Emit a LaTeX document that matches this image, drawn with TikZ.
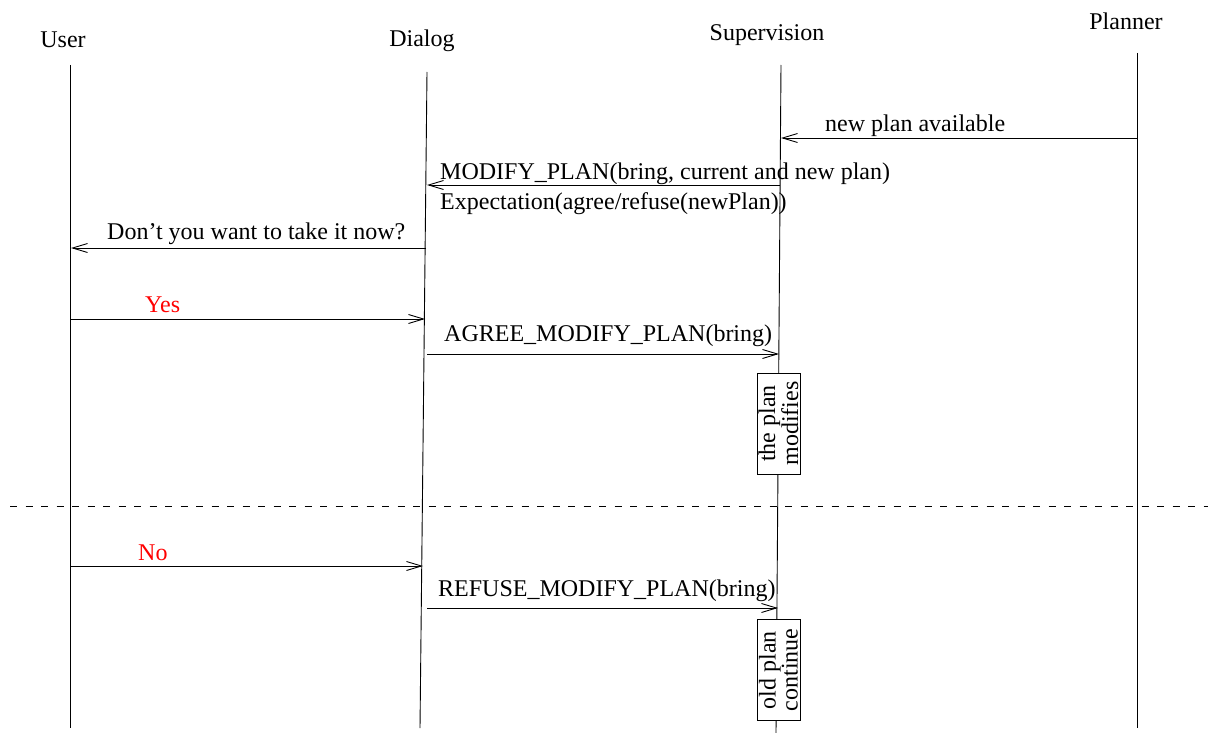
\documentclass[tikz,border=0pt]{standalone}
\usepackage{fontspec}
\setmainfont{Liberation Serif}
\usetikzlibrary{arrows.meta}
\begin{document}
\begin{tikzpicture}[x=1pt,y=-1pt,
  lifeline/.style={line width=0.9pt},
  msg/.style={line width=0.9pt,-{Straight Barb[length=15pt,width=9pt,line width=0.9pt]}},
  lbl/.style={anchor=base west,inner sep=0pt,font=\fontsize{24}{28}\selectfont},
  head/.style={anchor=base,inner sep=0pt,font=\fontsize{24}{28}\selectfont},
  note/.style={draw,fill=white,line width=0.9pt,rotate=90,align=center,inner sep=0pt,
    minimum width=101pt,minimum height=43pt,font=\fontsize{24}{17}\selectfont}]
\useasboundingbox (0,0) rectangle (1208,733);

% actor headings
\node[head] (huser) at (63,48) {User};
\node[head] (hdial) at (422,47) {Dialog};
\node[head] (hsup)  at (767,41) {Supervision};
\node[head] (hplan) at (1126,30) {Planner};

% lifelines
\coordinate (utop) at (70,65);   \coordinate (ubot) at (70,728);
\coordinate (dtop) at (427,72);  \coordinate (dbot) at (420,728);
\coordinate (stop) at (781,65);  \coordinate (sbot) at (776,733);
\coordinate (ptop) at (1137,53); \coordinate (pbot) at (1137,728);
\draw[lifeline] (utop) -- (ubot);
\draw[lifeline] (dtop) -- (dbot);
\draw[lifeline] (stop) -- (sbot);
\draw[lifeline] (ptop) -- (pbot);

% message end points on the lifelines
\coordinate (p1) at (1137,138); \coordinate (s1) at (781,138);
\coordinate (s2) at (780,185);  \coordinate (d2) at (427,185);
\coordinate (d3) at (426,248);  \coordinate (u3) at (71,248);
\coordinate (u4) at (70,319);   \coordinate (d4) at (425,319);
\coordinate (d5) at (427,354);  \coordinate (s5) at (779,354);
\coordinate (u6) at (70,566);   \coordinate (d6) at (423,566);
\coordinate (d7) at (427,608);  \coordinate (s7) at (778,608);

% messages
\draw[msg] (p1) -- (s1);
\node[lbl] (t1) at (825,132) {new plan available};
\draw[msg] (s2) -- (d2);
\node[lbl] (t2) at (440,179) {MODIFY\_PLAN(bring, current and new plan)};
\node[lbl] (t2b) at (440,209) {Expectation(agree/refuse(newPlan))};
\draw[msg] (d3) -- (u3);
\node[lbl] (t3) at (107,239) {Don’t you want to take it now?};
\draw[msg] (u4) -- (d4);
\node[lbl,text=red] (t4) at (145,312) {Yes};
\draw[msg] (d5) -- (s5);
\node[lbl] (t5) at (444,341) {AGREE\_MODIFY\_PLAN(bring)};

% activity of the supervisor
\node[note] (act1) at (778.5,423.5) {the plan\\modifies};

% alternative branch separator
\coordinate (sepl) at (10,506); \coordinate (sepr) at (1208,506);
\draw[line width=0.9pt,dash pattern=on 7pt off 8.5pt] (sepl) -- (sepr);

\draw[msg] (u6) -- (d6);
\node[lbl,text=red] (t6) at (138,560) {No};
\draw[msg] (d7) -- (s7);
\node[lbl] (t7) at (438,596) {REFUSE\_MODIFY\_PLAN(bring)};

\node[note] (act2) at (778.5,670) {old plan\\continue};
\end{tikzpicture}
\end{document}
